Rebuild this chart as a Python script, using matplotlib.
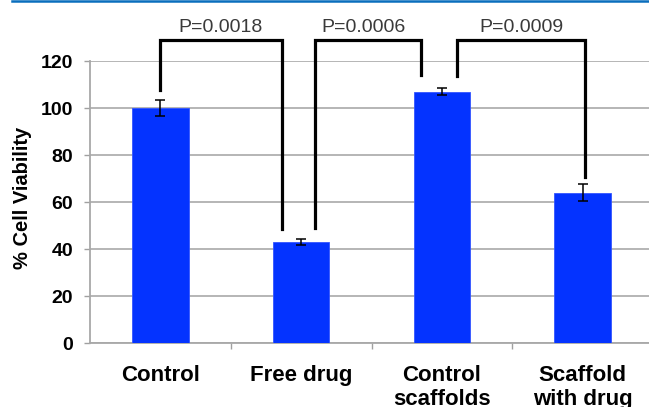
import matplotlib.pyplot as plt
from matplotlib.lines import Line2D

plt.rcParams['font.family'] = ['Liberation Sans', 'DejaVu Sans']

groups = ['Control', 'Free drug', 'Control\nscaffolds', 'Scaffold\nwith drug']
viability = [100, 43, 107, 64]
errors = [3.4, 1.3, 1.5, 3.5]

# significance brackets: (left x, right x), (left leg end, right leg end), label
bracket_x = [(0.0, 0.865), (1.10, 1.85), (2.11, 3.02)]
bracket_ends = [(107.5, 48.5), (48.8, 114.0), (113.5, 70.5)]
p_labels = ['P=0.0018', 'P=0.0006', 'P=0.0009']
p_label_x = [0.43, 1.445, 2.567]
bracket_top = 128.8

fig = plt.figure(figsize=(6.49, 4.07), dpi=100)
ax = fig.add_axes([0.1387, 0.1572, 0.8675, 0.6929])

x = list(range(len(groups)))
ax.bar(x, viability, width=0.40, color='#0433FF', edgecolor='#3355FF', linewidth=0.6, zorder=3)
ax.errorbar(x, viability, yerr=errors, fmt='none', ecolor='black', elinewidth=1.1,
            capsize=3.5, capthick=1.1, zorder=4)

for (x0, x1), (y0, y1), lab, tx in zip(bracket_x, bracket_ends, p_labels, p_label_x):
    ax.plot([x0, x0, x1, x1], [y0, bracket_top, bracket_top, y1], color='black',
            lw=2.3, clip_on=False, zorder=5, solid_joinstyle='miter')
    ax.text(tx, 132.3, lab, ha='center', va='baseline', fontsize=14, color='#3a3a3a')

ax.set_xlim(-0.5, 3.5)
ax.set_ylim(0, 120)
ax.set_yticks(range(0, 121, 20))
ax.set_xticks(x)
ax.set_xticklabels(groups, fontsize=16, fontweight='bold', linespacing=1.15)
ax.set_xticks([0.5, 1.5, 2.5], minor=True)
ax.tick_params(axis='x', which='major', length=0, pad=16)
ax.tick_params(axis='x', which='minor', length=4, color='#A0A0A0', width=1)
ax.tick_params(axis='y', length=4, color='#A0A0A0', width=1, pad=8, labelsize=14)
for t in ax.get_yticklabels():
    t.set_fontweight('bold')

fig.text(23 / 649, 1 - 198 / 407, '% Cell Viability', rotation=90, ha='center', va='center',
         fontsize=14.5, fontweight='bold')

ax.yaxis.grid(True, color='#B0B0B0', lw=1.3, zorder=0)
ax.set_axisbelow(True)
for s in ['top', 'right']:
    ax.spines[s].set_visible(False)
for s in ['left', 'bottom']:
    ax.spines[s].set_color('#A8A8A8')
    ax.spines[s].set_linewidth(1.3)

fig.add_artist(Line2D([12 / 649, 1.0], [0.9985, 0.9985], transform=fig.transFigure,
                      color='#0A6EBD', lw=1.8))

fig.savefig('out.png', dpi=100)
